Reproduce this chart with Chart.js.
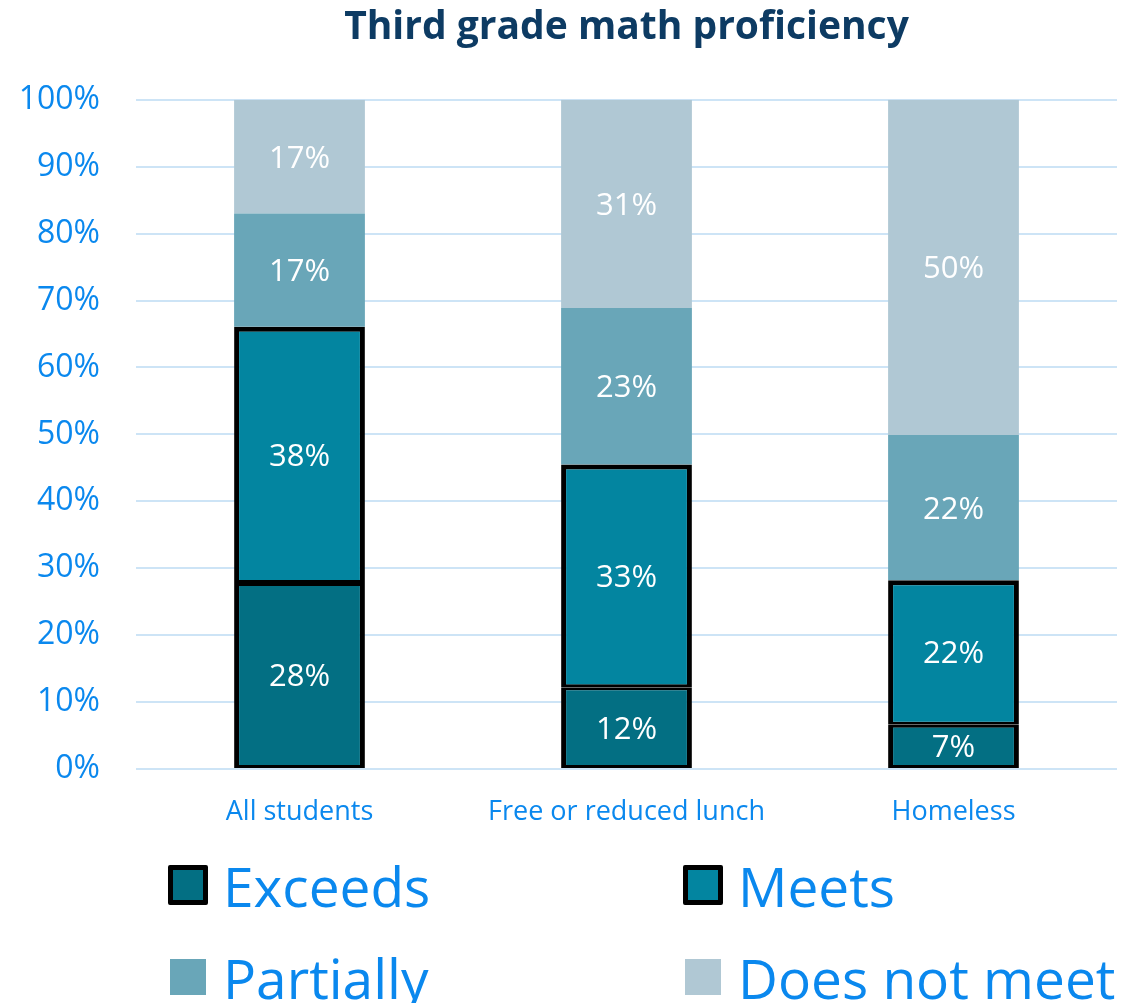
<!DOCTYPE html>
<html>
<head>
<meta charset="utf-8">
<script src="https://cdn.jsdelivr.net/npm/chart.js@4/dist/chart.umd.min.js"></script>
<style>
  body { margin: 0; background: #fff; font-family: "Open Sans", sans-serif; }
  #wrap { position: relative; width: 1143px; height: 1003px; }
  #box { position: absolute; left: 0; top: 0; width: 1143px; height: 840px; }
  .item { position: absolute; display: flex; align-items: center; height: 70px; color: #0a88ee; font-size: 55px; line-height: 1; }
  .sw { box-sizing: border-box; margin-right: 15px; }
</style>
</head>
<body>
<div id="wrap">
  <div id="box"><canvas id="grafico"></canvas></div>
  <div id="leyenda"></div>
</div>
<script>
// datos
var categorias = ["All students", "Free or reduced lunch", "Homeless"];
var exceeds = [27.8, 12.2, 6.6];
var meets = [38.3, 33.3, 21.6];
var partially = [16.9, 23.4, 21.7];
var doesNotMeet = [17.0, 31.1, 50.1];
var series = ["Exceeds", "Meets", "Partially", "Does not meet"];
var yTicks = [0, 10, 20, 30, 40, 50, 60, 70, 80, 90, 100];

var colores = ['#036f83', '#0385a0', '#69a6b8', '#b0c8d4'];
var azul = '#0a88ee';

// etiquetas dentro de las barras
var etiquetas = {
    id: 'etiquetas',
    afterDatasetsDraw: function(chart) {
        var ctx = chart.ctx;
        ctx.save();
        ctx.fillStyle = '#ffffff';
        ctx.font = '31px "Open Sans"';
        ctx.textAlign = 'center';
        ctx.textBaseline = 'middle';
        chart.data.datasets.forEach(function(ds, i) {
            chart.getDatasetMeta(i).data.forEach(function(bar, j) {
                var y = (bar.y + bar.base) / 2;
                ctx.fillText(Math.round(ds.data[j]) + '%', bar.x, y + 2);
            });
        });
        ctx.restore();
    }
};

var ctx = document.getElementById("grafico");
var myChart = new Chart(ctx, {
    type: 'bar',
    data: {
        labels: categorias,
        datasets: [{
            label: series[0],
            data: exceeds,
            backgroundColor: colores[0],
            borderColor: '#000000',
            borderWidth: {top: 3, bottom: 3, left: 5, right: 5},
            borderSkipped: false
        }, {
            label: series[1],
            data: meets,
            backgroundColor: colores[1],
            borderColor: '#000000',
            borderWidth: {top: 5, bottom: 3, left: 5, right: 5},
            borderSkipped: false
        }, {
            label: series[2],
            data: partially,
            backgroundColor: colores[2],
            borderWidth: 0
        }, {
            label: series[3],
            data: doesNotMeet,
            backgroundColor: colores[3],
            borderWidth: 0
        }]
    },
    options: {
        responsive: true,
        maintainAspectRatio: false,
        animation: false,
        layout: { padding: { left: 18, right: 26, top: 0, bottom: 15 } },
        datasets: { bar: { categoryPercentage: 1, barPercentage: 0.4 } },
        plugins: {
            legend: { display: false },
            tooltip: { enabled: false },
            title: {
                display: true,
                fullSize: false,
                text: 'Third grade math proficiency',
                color: '#0d3b63',
                font: { family: '"Open Sans"', size: 39, weight: 'bold' },
                padding: { top: 4, bottom: 49 }
            }
        },
        scales: {
            x: {
                stacked: true,
                grid: { display: false },
                border: { display: false },
                afterFit: function(axis) { axis.height = 56; },
                ticks: { color: azul, font: { family: '"Open Sans"', size: 27 }, padding: 19 }
            },
            y: {
                stacked: true,
                min: 0,
                max: 100,
                afterBuildTicks: function(axis) {
                    axis.ticks = yTicks.map(function(v) { return {value: v}; });
                },
                afterFit: function(axis) { axis.width = 118; },
                grid: { color: '#cde4f6', lineWidth: 2, drawTicks: false },
                border: { display: false },
                ticks: {
                    color: azul,
                    font: { family: '"Open Sans"', size: 32 },
                    padding: 36,
                    callback: function(v) { return v + '%'; }
                }
            }
        }
    },
    plugins: [etiquetas]
});

// leyenda en html, dos columnas
var posiciones = [[168, 850], [683, 850], [168, 942], [683, 942]];
var leyenda = document.getElementById('leyenda');
series.forEach(function(nombre, i) {
    var item = document.createElement('div');
    item.className = 'item';
    item.style.left = posiciones[i][0] + 'px';
    item.style.top = posiciones[i][1] + 'px';
    var sw = document.createElement('span');
    sw.className = 'sw';
    sw.style.background = colores[i];
    if (i < 2) {
        sw.style.width = '40px';
        sw.style.height = '40px';
        sw.style.border = '5px solid #000';
        sw.style.borderRadius = '2px';
    } else {
        sw.style.width = '36px';
        sw.style.height = '36px';
        sw.style.marginLeft = '2px';
        sw.style.marginRight = '17px';
    }
    item.appendChild(sw);
    var txt = document.createElement('span');
    txt.textContent = nombre;
    item.appendChild(txt);
    leyenda.appendChild(item);
});
</script>
</body>
</html>
